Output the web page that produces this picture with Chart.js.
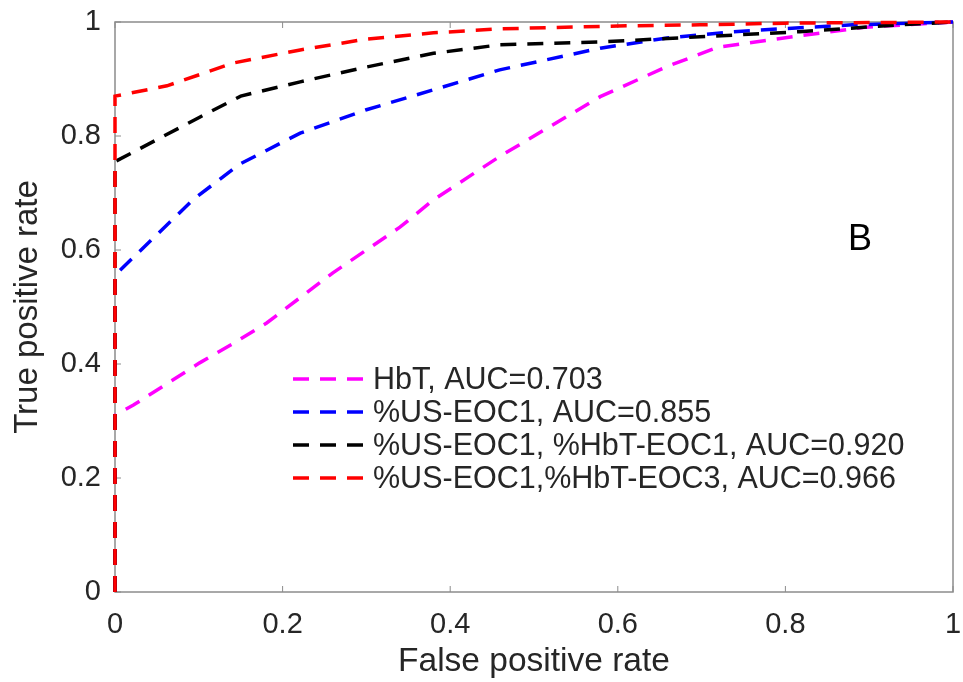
<!DOCTYPE html>
<html>
<head>
<meta charset="utf-8">
<script src="https://cdn.jsdelivr.net/npm/chart.js@4/dist/chart.umd.min.js"></script>
<style>
  html, body { margin: 0; padding: 0; background: #fff; }
  #wrap { width: 963px; height: 682px; }
</style>
</head>
<body>
<div id="wrap"><canvas id="roc"></canvas></div>
<script>
// ROC curves (false positive rate -> true positive rate)
const fprHbT = [0, 0, 0.022, 0.101, 0.14, 0.181, 0.26, 0.34, 0.38, 0.459, 0.579, 0.659, 0.72, 0.817, 0.897, 1];
const tprHbT = [0, 0.31, 0.328, 0.402, 0.435, 0.472, 0.56, 0.64, 0.688, 0.764, 0.869, 0.922, 0.956, 0.976, 0.991, 1];

const fprUS = [0, 0, 0.093, 0.148, 0.221, 0.30, 0.38, 0.459, 0.579, 0.659, 0.738, 0.817, 0.88, 1];
const tprUS = [0, 0.556, 0.688, 0.75, 0.805, 0.846, 0.881, 0.916, 0.954, 0.972, 0.983, 0.99, 0.995, 1];

const fprUSHbT1 = [0, 0, 0.101, 0.15, 0.221, 0.30, 0.38, 0.459, 0.579, 0.698, 0.817, 0.937, 1];
const tprUSHbT1 = [0, 0.755, 0.833, 0.87, 0.895, 0.921, 0.945, 0.96, 0.965, 0.974, 0.983, 0.995, 1];

const fprUSHbT3 = [0, 0, 0.062, 0.141, 0.221, 0.30, 0.38, 0.459, 0.6, 0.698, 0.8, 1];
const tprUSHbT3 = [0, 0.87, 0.888, 0.928, 0.951, 0.970, 0.981, 0.988, 0.993, 0.995, 0.998, 1];

const labels = [
  'HbT, AUC=0.703',
  '%US-EOC1, AUC=0.855',
  '%US-EOC1, %HbT-EOC1, AUC=0.920',
  '%US-EOC1,%HbT-EOC3, AUC=0.966'
];
const colors = ['#ff00ff', '#0000ff', '#000000', '#ff0000'];
const axisTicks = [0, 0.2, 0.4, 0.6, 0.8, 1];

const FONT = '"Liberation Sans", Arial, sans-serif';
const AXIS_GREY = '#8c8c8c';
const TEXT_COL = '#262626';
const DASH = [16, 11];

function pts(xs, ys) {
  return xs.map((x, i) => ({ x: x, y: ys[i] }));
}

const curves = [
  pts(fprHbT, tprHbT),
  pts(fprUS, tprUS),
  pts(fprUSHbT1, tprUSHbT1),
  pts(fprUSHbT3, tprUSHbT3)
];

// Chart.js draws the first dataset on top, so use order to keep red on top
const datasets = curves.map((data, i) => ({
  label: labels[i],
  data: data,
  borderColor: colors[i],
  backgroundColor: colors[i],
  borderWidth: 3.5,
  borderDash: DASH,
  pointRadius: 0,
  tension: 0,
  fill: false,
  clip: 6,
  order: 3 - i
}));

function fmt(v) {
  return (v === 0 || v === 1) ? String(v) : v.toFixed(1);
}

// box round the plot, small inward ticks, the legend and the "B" panel mark
const framePlugin = {
  id: 'frame',
  beforeDatasetsDraw(chart) {
    const ctx = chart.ctx;
    const a = chart.chartArea;
    const xs = chart.scales.x, ys = chart.scales.y;
    ctx.save();
    ctx.strokeStyle = AXIS_GREY;
    ctx.lineWidth = 1.5;
    ctx.strokeRect(a.left, a.top, a.right - a.left, a.bottom - a.top);

    ctx.lineWidth = 1;
    const tl = 6;
    axisTicks.forEach(v => {
      const px = xs.getPixelForValue(v);
      const py = ys.getPixelForValue(v);
      ctx.beginPath();
      ctx.moveTo(px, a.bottom); ctx.lineTo(px, a.bottom - tl);
      ctx.moveTo(px, a.top); ctx.lineTo(px, a.top + tl);
      ctx.moveTo(a.left, py); ctx.lineTo(a.left + tl, py);
      ctx.stroke();
    });
    ctx.restore();
  },
  afterDraw(chart) {
    const ctx = chart.ctx;
    ctx.save();
    // legend (no box), inside the plot
    const lx = 293, ly = 379, rowH = 33, lineLen = 72;
    ctx.font = '30.5px ' + FONT;
    ctx.textBaseline = 'middle';
    ctx.textAlign = 'left';
    labels.forEach((lab, i) => {
      const y = ly + i * rowH;
      ctx.strokeStyle = colors[i];
      ctx.lineWidth = 3.5;
      ctx.setLineDash(DASH);
      ctx.beginPath();
      ctx.moveTo(lx, y);
      ctx.lineTo(lx + lineLen, y);
      ctx.stroke();
      ctx.fillStyle = TEXT_COL;
      ctx.fillText(lab, lx + lineLen + 8, y + 2);
    });

    ctx.setLineDash([]);
    ctx.font = '36px ' + FONT;
    ctx.fillStyle = '#000';
    ctx.textAlign = 'center';
    ctx.fillText('B', 860, 240);
    ctx.restore();
  }
};

new Chart(document.getElementById('roc'), {
  type: 'line',
  data: { datasets: datasets },
  options: {
    responsive: true,
    maintainAspectRatio: false,
    animation: false,
    layout: { padding: { top: 22, right: 10, left: 0, bottom: 0 } },
    plugins: {
      legend: { display: false },
      tooltip: { enabled: false }
    },
    scales: {
      x: {
        type: 'linear',
        min: 0,
        max: 1,
        afterFit: s => { s.height = 90; s.paddingLeft = 0; s.paddingRight = 0; },
        afterBuildTicks: s => { s.ticks = axisTicks.map(v => ({ value: v })); },
        grid: { display: false, drawTicks: false },
        border: { display: false },
        ticks: {
          padding: 16,
          color: TEXT_COL,
          font: { family: FONT, size: 29 },
          maxRotation: 0,
          callback: v => fmt(v)
        },
        title: {
          display: true,
          text: 'False positive rate',
          color: TEXT_COL,
          font: { family: FONT, size: 33.5, lineHeight: 1.2 },
          padding: { top: 0, bottom: 0 }
        }
      },
      y: {
        type: 'linear',
        min: 0,
        max: 1,
        afterFit: s => { s.width = 115; s.paddingTop = 0; s.paddingBottom = 0; },
        afterBuildTicks: s => { s.ticks = axisTicks.map(v => ({ value: v })); },
        grid: { display: false, drawTicks: false },
        border: { display: false },
        ticks: {
          padding: 14,
          color: TEXT_COL,
          font: { family: FONT, size: 29 },
          callback: v => fmt(v)
        },
        title: {
          display: true,
          text: 'True positive rate',
          color: TEXT_COL,
          font: { family: FONT, size: 33, lineHeight: 1.2 },
          padding: { top: 8, bottom: 0 }
        }
      }
    }
  },
  plugins: [framePlugin]
});
</script>
</body>
</html>
